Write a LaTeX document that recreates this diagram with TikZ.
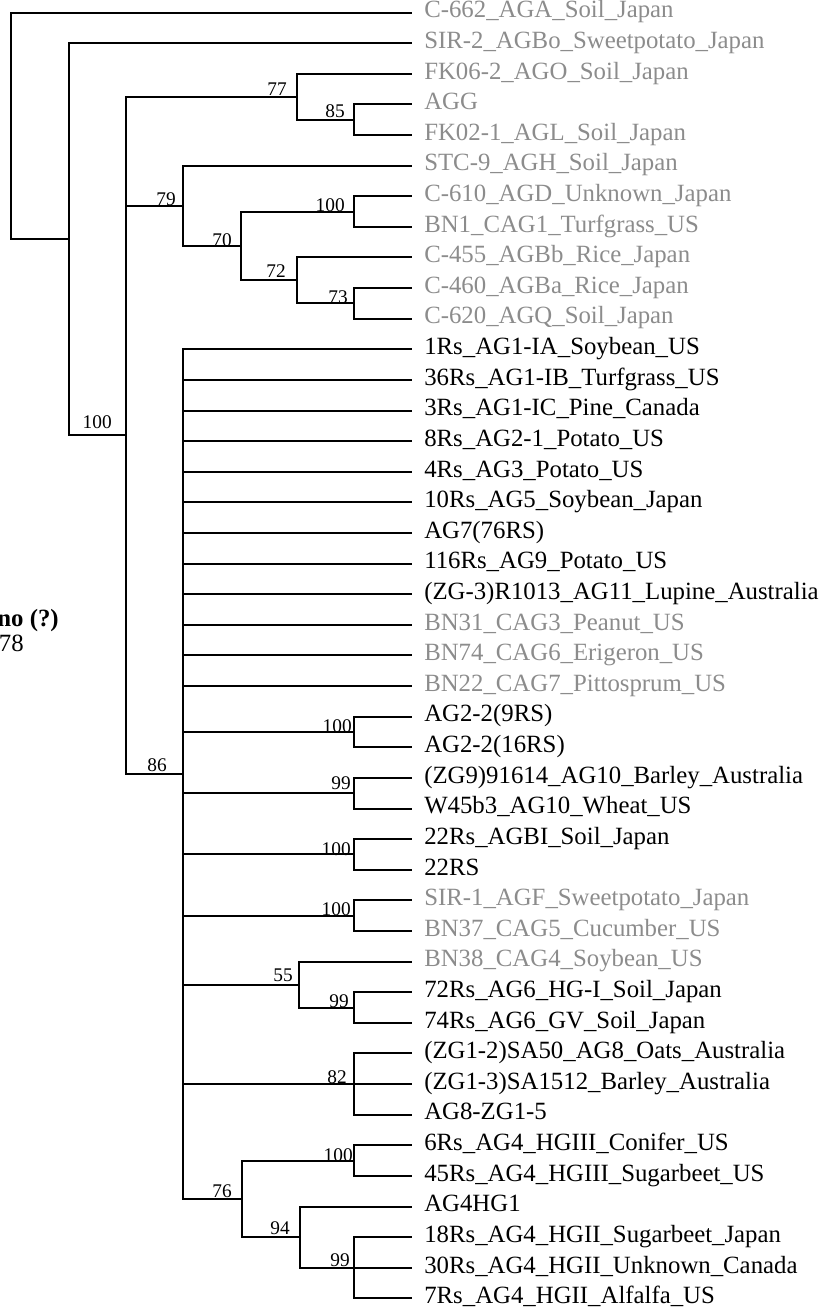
\documentclass[tikz,border=0pt]{standalone}
\usepackage{fontspec}
\setmainfont{Liberation Serif}
\newcommand{\leaffont}{\fontsize{18.6}{20}\selectfont}
\newcommand{\bootfont}{\fontsize{14.5}{16}\selectfont}
\tikzset{
    % tree branches
    branch/.style={line width=1.5pt, black},
    % taxon labels (black = sequenced here, gray = reference isolates)
    leaf/.style={anchor=west, inner xsep=9pt, inner ysep=0pt,
        text height=0.8em, text depth=0pt, font=\leaffont, text=black},
    grayleaf/.style={leaf, text=black!45},
    % bootstrap support values
    boot/.style={anchor=base east, inner sep=0pt, font=\bootfont},
    % cropped side notes
    sidenote/.style={anchor=base east, inner sep=0pt, font=\leaffont},
}

\begin{document}
\begin{tikzpicture}[x=0.75pt,y=-0.75pt]
  \useasboundingbox (0,0) rectangle (827,1311);

  % taxa
  \node[grayleaf] (l1)  at (412,12.5)   {C-662\_AGA\_Soil\_Japan};
  \node[grayleaf] (l2)  at (412,43.1)   {SIR-2\_AGBo\_Sweetpotato\_Japan};
  \node[grayleaf] (l3)  at (412,73.7)   {FK06-2\_AGO\_Soil\_Japan};
  \node[grayleaf] (l4)  at (412,104.3)  {AGG};
  \node[grayleaf] (l5)  at (412,135.0)  {FK02-1\_AGL\_Soil\_Japan};
  \node[grayleaf] (l6)  at (412,165.6)  {STC-9\_AGH\_Soil\_Japan};
  \node[grayleaf] (l7)  at (412,196.2)  {C-610\_AGD\_Unknown\_Japan};
  \node[grayleaf] (l8)  at (412,226.8)  {BN1\_CAG1\_Turfgrass\_US};
  \node[grayleaf] (l9)  at (412,257.4)  {C-455\_AGBb\_Rice\_Japan};
  \node[grayleaf] (l10) at (412,288.0)  {C-460\_AGBa\_Rice\_Japan};
  \node[grayleaf] (l11) at (412,318.6)  {C-620\_AGQ\_Soil\_Japan};
  \node[leaf]     (l12) at (412,349.3)  {1Rs\_AG1-IA\_Soybean\_US};
  \node[leaf]     (l13) at (412,379.9)  {36Rs\_AG1-IB\_Turfgrass\_US};
  \node[leaf]     (l14) at (412,410.5)  {3Rs\_AG1-IC\_Pine\_Canada};
  \node[leaf]     (l15) at (412,441.1)  {8Rs\_AG2-1\_Potato\_US};
  \node[leaf]     (l16) at (412,471.7)  {4Rs\_AG3\_Potato\_US};
  \node[leaf]     (l17) at (412,502.3)  {10Rs\_AG5\_Soybean\_Japan};
  \node[leaf]     (l18) at (412,532.9)  {AG7(76RS)};
  \node[leaf]     (l19) at (412,563.6)  {116Rs\_AG9\_Potato\_US};
  \node[leaf]     (l20) at (412,594.2)  {(ZG-3)R1013\_AG11\_Lupine\_Australia};
  \node[grayleaf] (l21) at (412,624.8)  {BN31\_CAG3\_Peanut\_US};
  \node[grayleaf] (l22) at (412,655.4)  {BN74\_CAG6\_Erigeron\_US};
  \node[grayleaf] (l23) at (412,686.0)  {BN22\_CAG7\_Pittosprum\_US};
  \node[leaf]     (l24) at (412,716.6)  {AG2-2(9RS)};
  \node[leaf]     (l25) at (412,747.2)  {AG2-2(16RS)};
  \node[leaf]     (l26) at (412,777.9)  {(ZG9)91614\_AG10\_Barley\_Australia};
  \node[leaf]     (l27) at (412,808.5)  {W45b3\_AG10\_Wheat\_US};
  \node[leaf]     (l28) at (412,839.1)  {22Rs\_AGBI\_Soil\_Japan};
  \node[leaf]     (l29) at (412,869.7)  {22RS};
  \node[grayleaf] (l30) at (412,900.3)  {SIR-1\_AGF\_Sweetpotato\_Japan};
  \node[grayleaf] (l31) at (412,930.9)  {BN37\_CAG5\_Cucumber\_US};
  \node[grayleaf] (l32) at (412,961.5)  {BN38\_CAG4\_Soybean\_US};
  \node[leaf]     (l33) at (412,992.2)  {72Rs\_AG6\_HG-I\_Soil\_Japan};
  \node[leaf]     (l34) at (412,1022.8) {74Rs\_AG6\_GV\_Soil\_Japan};
  \node[leaf]     (l35) at (412,1053.4) {(ZG1-2)SA50\_AG8\_Oats\_Australia};
  \node[leaf]     (l36) at (412,1084.0) {(ZG1-3)SA1512\_Barley\_Australia};
  \node[leaf]     (l37) at (412,1114.6) {AG8-ZG1-5};
  \node[leaf]     (l38) at (412,1145.2) {6Rs\_AG4\_HGIII\_Conifer\_US};
  \node[leaf]     (l39) at (412,1175.8) {45Rs\_AG4\_HGIII\_Sugarbeet\_US};
  \node[leaf]     (l40) at (412,1206.5) {AG4HG1};
  \node[leaf]     (l41) at (412,1237.1) {18Rs\_AG4\_HGII\_Sugarbeet\_Japan};
  \node[leaf]     (l42) at (412,1267.7) {30Rs\_AG4\_HGII\_Unknown\_Canada};
  \node[leaf]     (l43) at (412,1298.3) {7Rs\_AG4\_HGII\_Alfalfa\_US};

  % internal nodes
  \coordinate (root)   at (11,125.9);
  \coordinate (core)   at (69,239.3);
  \coordinate (ingrp)  at (126,435.4);
  \coordinate (nO)     at (297,96.7);
  \coordinate (nGL)    at (354,119.65);
  \coordinate (nH)     at (183,205.8);
  \coordinate (nD)     at (241,245.9);
  \coordinate (nDC)    at (354,211.5);
  \coordinate (nB)     at (297,280.35);
  \coordinate (nBQ)    at (354,303.3);
  \coordinate (main)   at (183,774.05);
  \coordinate (nAGtwo) at (354,731.9);
  \coordinate (nAGten) at (354,793.2);
  \coordinate (nAGBI)  at (354,854.4);
  \coordinate (nAGF)   at (354,915.6);
  \coordinate (nAGsix) at (299,984.5);
  \coordinate (nHGI)   at (354,1007.5);
  \coordinate (nAGeig) at (354,1084.0);
  \coordinate (nAGfour) at (242,1198.8);
  \coordinate (nHGIII) at (354,1160.5);
  \coordinate (nHGII)  at (300,1237.1);
  \coordinate (nHGIIb) at (354,1267.7);

  % branches
  \draw[branch] (root) |- (l1.west);
  \draw[branch] (root) |- (core);
  \draw[branch] (core) |- (l2.west);
  \draw[branch] (core) |- (ingrp);
  \draw[branch] (ingrp) |- (nO);
  \draw[branch] (ingrp) |- (nH);
  \draw[branch] (ingrp) |- (main);
  \draw[branch] (nO) |- (l3.west);
  \draw[branch] (nO) |- (nGL);
  \draw[branch] (nGL) |- (l4.west);
  \draw[branch] (nGL) |- (l5.west);
  \draw[branch] (nH) |- (l6.west);
  \draw[branch] (nH) |- (nD);
  \draw[branch] (nD) |- (nDC);
  \draw[branch] (nD) |- (nB);
  \draw[branch] (nDC) |- (l7.west);
  \draw[branch] (nDC) |- (l8.west);
  \draw[branch] (nB) |- (l9.west);
  \draw[branch] (nB) |- (nBQ);
  \draw[branch] (nBQ) |- (l10.west);
  \draw[branch] (nBQ) |- (l11.west);
  % large polytomy
  \draw[branch] (main) |- (l12.west);
  \draw[branch] (main) |- (l13.west);
  \draw[branch] (main) |- (l14.west);
  \draw[branch] (main) |- (l15.west);
  \draw[branch] (main) |- (l16.west);
  \draw[branch] (main) |- (l17.west);
  \draw[branch] (main) |- (l18.west);
  \draw[branch] (main) |- (l19.west);
  \draw[branch] (main) |- (l20.west);
  \draw[branch] (main) |- (l21.west);
  \draw[branch] (main) |- (l22.west);
  \draw[branch] (main) |- (l23.west);
  \draw[branch] (main) |- (nAGtwo);
  \draw[branch] (main) |- (nAGten);
  \draw[branch] (main) |- (nAGBI);
  \draw[branch] (main) |- (nAGF);
  \draw[branch] (main) |- (nAGsix);
  \draw[branch] (main) |- (nAGeig);
  \draw[branch] (main) |- (nAGfour);
  \draw[branch] (nAGtwo) |- (l24.west);
  \draw[branch] (nAGtwo) |- (l25.west);
  \draw[branch] (nAGten) |- (l26.west);
  \draw[branch] (nAGten) |- (l27.west);
  \draw[branch] (nAGBI) |- (l28.west);
  \draw[branch] (nAGBI) |- (l29.west);
  \draw[branch] (nAGF) |- (l30.west);
  \draw[branch] (nAGF) |- (l31.west);
  \draw[branch] (nAGsix) |- (l32.west);
  \draw[branch] (nAGsix) |- (nHGI);
  \draw[branch] (nHGI) |- (l33.west);
  \draw[branch] (nHGI) |- (l34.west);
  \draw[branch] (nAGeig) |- (l35.west);
  \draw[branch] (nAGeig) |- (l36.west);
  \draw[branch] (nAGeig) |- (l37.west);
  \draw[branch] (nAGfour) |- (nHGIII);
  \draw[branch] (nAGfour) |- (nHGII);
  \draw[branch] (nHGIII) |- (l38.west);
  \draw[branch] (nHGIII) |- (l39.west);
  \draw[branch] (nHGII) |- (l40.west);
  \draw[branch] (nHGII) |- (nHGIIb);
  \draw[branch] (nHGIIb) |- (l41.west);
  \draw[branch] (nHGIIb) |- (l42.west);
  \draw[branch] (nHGIIb) |- (l43.west);

  % bootstrap values
  \node[boot] (bIngrp)  at (112,428)  {100};
  \node[boot] (bO)      at (287,95)   {77};
  \node[boot] (bGL)     at (345,117)  {85};
  \node[boot] (bH)      at (176,205)  {79};
  \node[boot] (bD)      at (232,246)  {70};
  \node[boot] (bDC)     at (345,211)  {100};
  \node[boot] (bB)      at (286,277)  {72};
  \node[boot] (bBQ)     at (348,303)  {73};
  \node[boot] (bMain)   at (167,771)  {86};
  \node[boot] (bAGtwo)  at (352,732)  {100};
  \node[boot] (bAGten)  at (351,789)  {99};
  \node[boot] (bAGBI)   at (351,855)  {100};
  \node[boot] (bAGF)    at (351,915)  {100};
  \node[boot] (bAGsix)  at (293,981)  {55};
  \node[boot] (bHGI)    at (349,1007) {99};
  \node[boot] (bAGeig)  at (347,1083) {82};
  \node[boot] (bHGIII)  at (353,1161) {100};
  \node[boot] (bAGfour) at (232,1197) {76};
  \node[boot] (bHGII)   at (290,1234) {94};
  \node[boot] (bHGIIb)  at (350,1266) {99};

  % text cut off at the left edge
  \node[sidenote, font=\leaffont\bfseries] (cutA) at (59,626) {no (?)};
  \node[sidenote] (cutB) at (24,651) {78};
\end{tikzpicture}
\end{document}
